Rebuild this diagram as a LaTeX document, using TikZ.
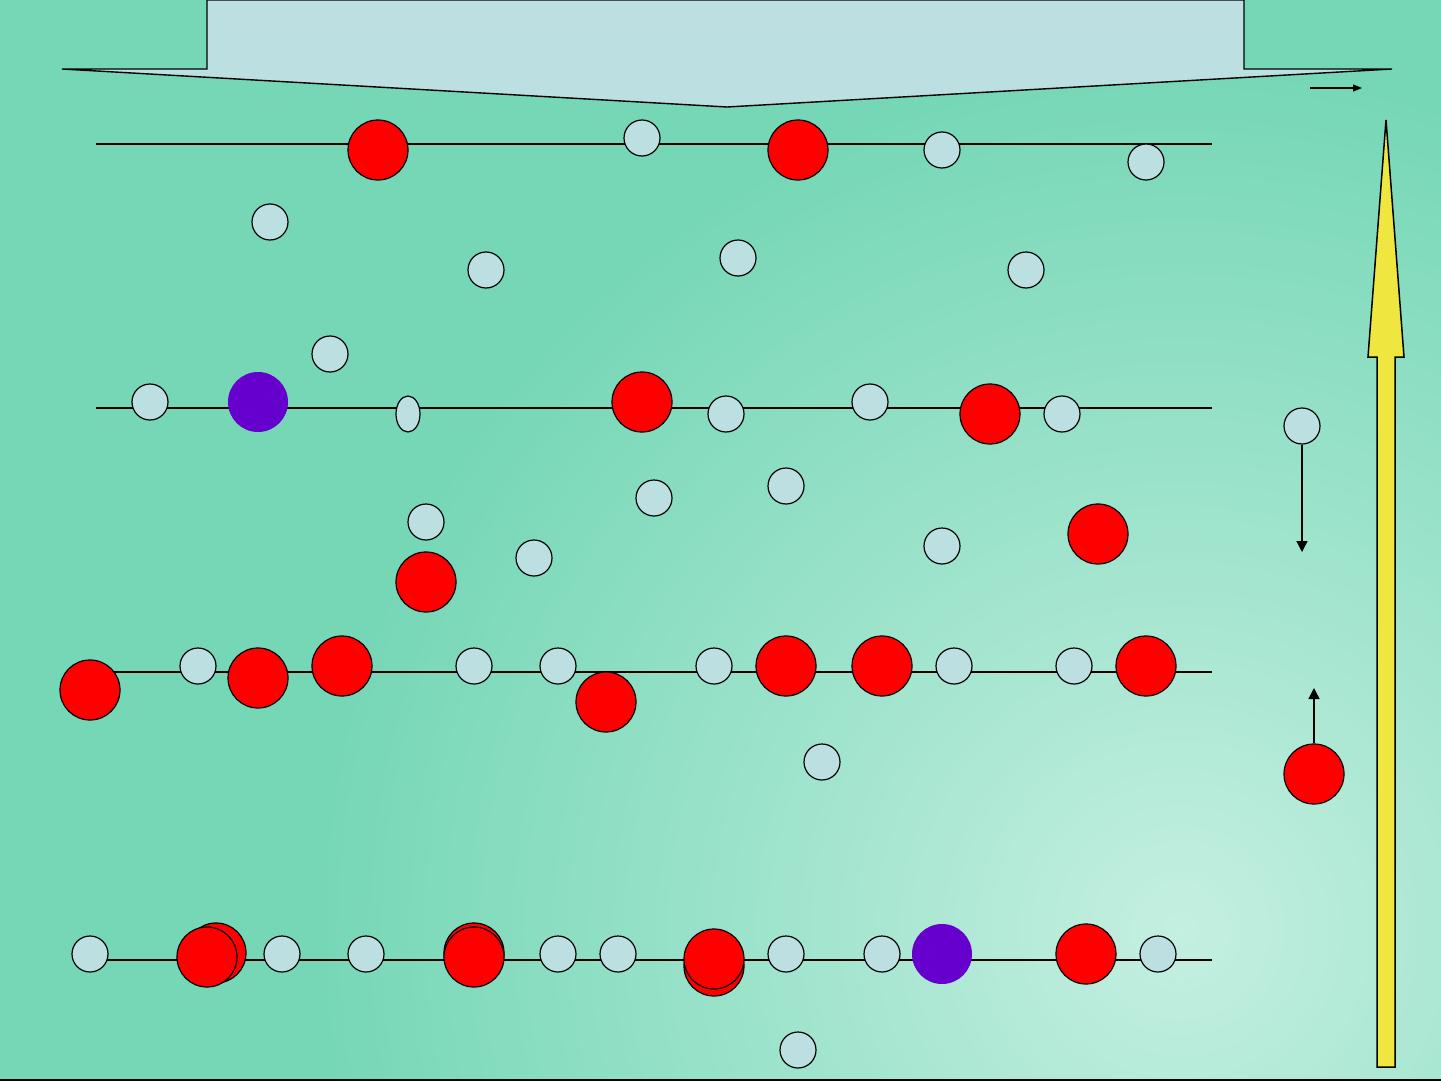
\documentclass[tikz,border=0pt]{standalone}
\usetikzlibrary{arrows.meta}
\definecolor{bg}{HTML}{76D7B6}
\definecolor{bglight}{HTML}{C4EFE1}
\definecolor{lb}{HTML}{BCE0E2}
\definecolor{rd}{HTML}{FF0000}
\definecolor{pur}{HTML}{6600CC}
\definecolor{yel}{HTML}{F0E640}
\begin{document}
\begin{tikzpicture}[x=1pt,y=-1pt,
  sm/.style={circle,draw=black,fill=lb,minimum size=36pt,inner sep=0pt,line width=1.2pt},
  rb/.style={circle,draw=black,fill=rd,minimum size=60pt,inner sep=0pt,line width=1.2pt},
  pb/.style={circle,fill=pur,minimum size=60pt,inner sep=0pt},
  row/.style={line width=1.6pt},
  arr/.style={line width=1.4pt,-{Triangle[length=11pt,width=11pt]}}]
\useasboundingbox (0,0) rectangle (1441,1081);
\fill[bg] (0,0) rectangle (1441,1081);
\begin{scope}
\clip (0,0) rectangle (1441,1081);
\shade[inner color=bglight,outer color=bg] (1180,930) circle (860);
\end{scope}
\draw[line width=1.5pt] (0,1080) -- (1441,1080);
% banner
\draw[fill=lb,line width=1.4pt,line join=miter] (62,69) -- (207,69) -- (207,0) -- (1244,0) -- (1244,69) -- (1392,69) -- (727,107) -- cycle;
% small arrow top right
\coordinate (ta) at (1310,88); \coordinate (tb) at (1362,88);
\draw[line width=1.2pt,-{Triangle[length=9pt,width=7pt]}] (ta) -- (tb);
% yellow arrow
\draw[fill=yel,line width=1.5pt] (1377,1067) -- (1377,357) -- (1368,357) -- (1386,120) -- (1404,357) -- (1395,357) -- (1395,1067) -- cycle;
% rows
\coordinate (r1a) at (96,144); \coordinate (r1b) at (1212,144);
\coordinate (r2a) at (96,408); \coordinate (r2b) at (1212,408);
\coordinate (r3a) at (96,672); \coordinate (r3b) at (1212,672);
\coordinate (r4a) at (90,960); \coordinate (r4b) at (1212,960);
\draw[row] (r1a) -- (r1b);
\draw[row] (r2a) -- (r2b);
\draw[row] (r3a) -- (r3b);
\draw[row] (r4a) -- (r4b);
% row 1
\node[rb] (a1) at (378,150) {};
\node[sm] (a2) at (642,138) {};
\node[rb] (a3) at (798,150) {};
\node[sm] (a4) at (942,150) {};
\node[sm] (a5) at (1146,162) {};
% free between 1 and 2
\node[sm] (f1) at (270,222) {};
\node[sm] (f2) at (486,270) {};
\node[sm] (f3) at (738,258) {};
\node[sm] (f4) at (1026,270) {};
\node[sm] (f5) at (330,354) {};
% row 2
\node[sm] (b1) at (150,402) {};
\node[pb] (b2) at (258,402) {};
\draw[fill=lb,line width=1.2pt] (408,414) ellipse (12 and 18);
\coordinate (b3) at (408,414);
\node[rb] (b4) at (642,402) {};
\node[sm] (b5) at (726,414) {};
\node[sm] (b6) at (870,402) {};
\node[rb] (b7) at (990,414) {};
\node[sm] (b8) at (1062,414) {};
% free between 2 and 3
\node[sm] (g1) at (654,498) {};
\node[sm] (g2) at (786,486) {};
\node[sm] (g3) at (426,522) {};
\node[sm] (g4) at (534,558) {};
\node[sm] (g5) at (942,546) {};
\node[rb] (g6) at (1098,534) {};
\node[rb] (g7) at (426,582) {};
% row 3
\node[rb] (c1) at (90,690) {};
\node[sm] (c2) at (198,666) {};
\node[rb] (c3) at (258,678) {};
\node[rb] (c4) at (342,666) {};
\node[sm] (c5) at (474,666) {};
\node[sm] (c6) at (558,666) {};
\node[rb] (c7) at (606,702) {};
\node[sm] (c8) at (714,666) {};
\node[rb] (c9) at (786,666) {};
\node[rb] (c10) at (882,666) {};
\node[sm] (c11) at (954,666) {};
\node[sm] (c12) at (1074,666) {};
\node[rb] (c13) at (1146,666) {};
\node[sm] (h1) at (822,762) {};
% row 4
\node[sm] (d1) at (90,954) {};
\node[rb] (d2b) at (216,953) {};
\node[rb] (d2) at (207,957) {};
\node[sm] (d3) at (282,954) {};
\node[sm] (d4) at (366,954) {};
\node[rb] (d5b) at (474,953) {};
\node[rb] (d5) at (474,957) {};
\node[sm] (d6) at (558,954) {};
\node[sm] (d7) at (618,954) {};
\node[rb] (d8b) at (714,966) {};
\node[rb] (d8) at (714,959) {};
\node[sm] (d9) at (786,954) {};
\node[sm] (d10) at (882,954) {};
\node[pb] (d11) at (942,954) {};
\node[rb] (d12) at (1086,954) {};
\node[sm] (d13) at (1158,954) {};
\node[sm] (e1) at (798,1050) {};
% legend
\node[sm] (s1) at (1302,426) {};
\coordinate (s1e) at (1302,552);
\draw[arr] (s1) -- (s1e);
\node[rb] (s2) at (1314,774) {};
\coordinate (s2e) at (1314,688);
\draw[arr] (s2) -- (s2e);
\end{tikzpicture}
\end{document}
